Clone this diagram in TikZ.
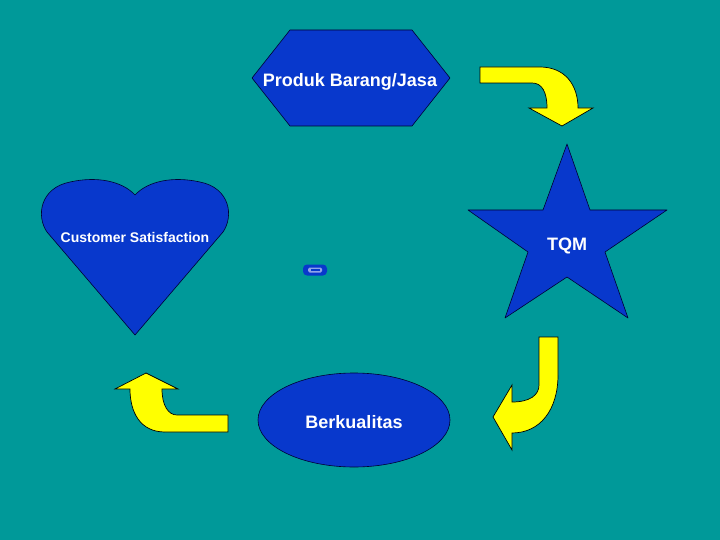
\documentclass[tikz,border=0pt]{standalone}
\usepackage{fontspec}
\setmainfont{Liberation Sans}
\definecolor{bgteal}{RGB}{0,153,153}
\definecolor{shapeblue}{RGB}{8,56,204}
\definecolor{arrowyellow}{RGB}{255,255,0}
\tikzset{
  blueshape/.style={fill=shapeblue,draw=black!80!blue,line width=0.6pt,line join=round},
  yarrow/.style={fill=arrowyellow,draw=black,line width=0.7pt,line join=miter},
  lbl/.style={text=white,font=\bfseries,inner sep=0pt,anchor=base}
}
\begin{document}
\begin{tikzpicture}[x=1pt,y=-1pt]
\fill[bgteal] (0,0) rectangle (720,540);
\useasboundingbox (0,0) rectangle (720,540);
% hexagon
\draw[blueshape] (290,30) -- (412,30) -- (450,78) -- (412,126) -- (290,126) -- (252,78) -- cycle;
\node[lbl,font=\fontsize{18}{20}\selectfont\bfseries] (produk) at (350,87) {Produk Barang/Jasa};
% star
\draw[blueshape] (567,144) -- (590,210) -- (667,210) -- (605,252) -- (628,318) -- (567,277) -- (505,318) -- (528,252) -- (468,210) -- (543,210) -- cycle;
\node[lbl,font=\fontsize{18}{20}\selectfont\bfseries] (tqm) at (567,250) {TQM};
% ellipse
\draw[blueshape] (354,420) ellipse [x radius=96, y radius=47];
\node[lbl,font=\fontsize{18}{20}\selectfont\bfseries] (berk) at (354,428) {Berkualitas};
% heart
\draw[blueshape] (135,335) -- (47,232) .. controls (36,216) and (40,188) .. (70,182) .. controls (97,176) and (122,181) .. (135,195) .. controls (148,181) and (173,176) .. (200,182) .. controls (230,188) and (234,216) .. (223,232) -- cycle;
\node[lbl,font=\fontsize{14}{16}\selectfont\bfseries] (cs) at (135,243) {Customer Satisfaction};
% small icon
\fill[shapeblue,rounded corners=4pt] (303,264.5) rectangle (327,275.5);
\fill[white!55!shapeblue,rounded corners=1.5pt] (308,267.5) rectangle (322,272.5);
\fill[shapeblue] (311,269.3) rectangle (320,270.7);
% arrows
\draw[yarrow] (480,67) -- (540,67) .. controls (565,67) and (578,85) .. (578,108) -- (593,108) -- (562,126) -- (529,108) -- (547,108) .. controls (547,92) and (542,83) .. (532,83) -- (480,83) -- cycle;
\draw[yarrow] (539,337) -- (558,337) -- (558,375) .. controls (558,410) and (540,433) .. (512,433) -- (512,450) -- (493,417) -- (512,385) -- (512,402) .. controls (530,402) and (539,395) .. (539,385) -- cycle;
\draw[yarrow] (228,415) -- (228,432) -- (165,432) .. controls (140,432) and (130,412) .. (130,389) -- (115,389) -- (146,373) -- (178,389) -- (162,389) .. controls (162,405) and (168,415) .. (177,415) -- cycle;
\end{tikzpicture}
\end{document}
